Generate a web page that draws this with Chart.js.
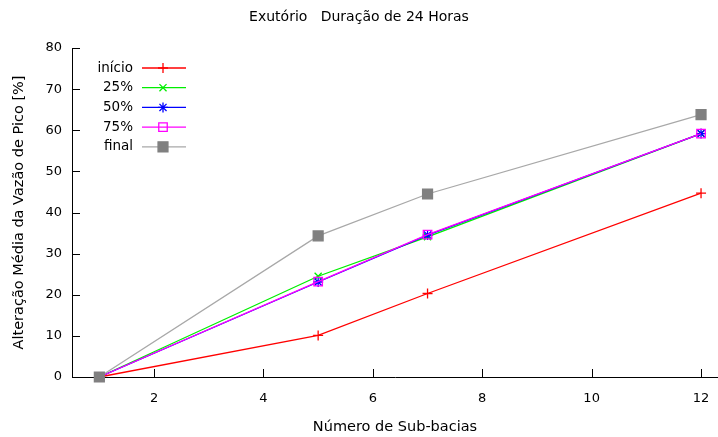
<!DOCTYPE html>
<html>
<head>
<meta charset="utf-8">
<script src="https://cdn.jsdelivr.net/npm/chart.js@4.4.0/dist/chart.umd.min.js"></script>
<style>
  html, body { margin: 0; padding: 0; background: #fff; }
  #wrap { width: 718px; height: 437px; }
</style>
</head>
<body>
<div id="wrap"><canvas id="c" width="718" height="437"></canvas></div>
<script>
// Número de sub-bacias (eixo x)
const subBacias = [1, 5, 7, 12];

// Alteração média da vazão de pico [%] para cada instante
const inicio = [0, 10.1, 20.3, 44.7];
const p25    = [0, 24.5, 34.1, 59.2];
const p50    = [0, 23.1, 34.5, 59.2];
const p75    = [0, 23.2, 34.6, 59.2];
const final  = [0, 34.3, 44.5, 63.8];

const seriesNames = ['início', '25%', '50%', '75%', 'final'];

const xTicks = [2, 4, 6, 8, 10, 12];
const yTicks = [0, 10, 20, 30, 40, 50, 60, 70, 80];

const FONT = 'DejaVu Sans';

function pts(vals) {
  return subBacias.map((x, i) => ({ x: x, y: vals[i] }));
}

const styles = [
  { line: '#ff0000', point: '#ff0000', pointStyle: 'cross',    radius: 5,   fill: false },
  { line: '#00ee00', point: '#00ee00', pointStyle: 'crossRot', radius: 5,   fill: false },
  { line: '#0000ff', point: '#0000ff', pointStyle: 'star',     radius: 5,   fill: false },
  { line: '#ff00ff', point: '#ff00ff', pointStyle: 'rect',     radius: 6,   fill: false },
  { line: '#a8a8a8', point: '#808080', pointStyle: 'rect',     radius: 7,   fill: true }
];

const values = [inicio, p25, p50, p75, final];

const datasets = values.map((v, i) => ({
  label: seriesNames[i],
  data: pts(v),
  borderColor: styles[i].line,
  borderWidth: 1.3,
  pointStyle: styles[i].pointStyle,
  pointRadius: styles[i].radius,
  pointBorderColor: styles[i].point,
  pointBackgroundColor: styles[i].fill ? styles[i].point : 'rgba(0,0,0,0)',
  pointBorderWidth: 1.3,
  tension: 0,
  fill: false,
  clip: false,
  order: 5 - i
}));

// Inward tick marks (gnuplot-like) and the key in the upper-left corner
const decor = {
  id: 'decor',
  afterDatasetsDraw(chart) {
    const ctx = chart.ctx;
    const xs = chart.scales.x, ys = chart.scales.y;
    const area = chart.chartArea;
    ctx.save();
    ctx.strokeStyle = '#000';
    ctx.lineWidth = 1;
    ctx.beginPath();
    xTicks.forEach(v => {
      const px = Math.round(xs.getPixelForValue(v)) + 0.5;
      ctx.moveTo(px, area.bottom);
      ctx.lineTo(px, area.bottom - 8);
    });
    yTicks.forEach(v => {
      const py = Math.round(ys.getPixelForValue(v)) + 0.5;
      ctx.moveTo(area.left, py);
      ctx.lineTo(area.left + 8, py);
    });
    ctx.stroke();

    // key
    ctx.font = '13.5px "' + FONT + '"';
    ctx.textAlign = 'right';
    ctx.textBaseline = 'middle';
    chart.data.datasets.forEach((ds, i) => {
      const y = area.top + 20 + i * 19.7;
      ctx.fillStyle = '#000';
      ctx.fillText(ds.label, area.left + 61, y);
      ctx.strokeStyle = ds.borderColor;
      ctx.lineWidth = ds.borderWidth;
      ctx.beginPath();
      ctx.moveTo(area.left + 70, y);
      ctx.lineTo(area.left + 114, y);
      ctx.stroke();
      ctx.fillStyle = ds.pointBackgroundColor;
      ctx.strokeStyle = ds.pointBorderColor;
      ctx.lineWidth = ds.pointBorderWidth;
      Chart.helpers.drawPoint(ctx, {
        pointStyle: ds.pointStyle,
        radius: ds.pointRadius,
        rotation: 0,
        borderWidth: ds.pointBorderWidth
      }, area.left + 91, y);
    });
    ctx.restore();
  }
};

new Chart(document.getElementById('c'), {
  type: 'line',
  data: { datasets: datasets },
  options: {
    responsive: false,
    animation: false,
    events: [],
    layout: { autoPadding: false, padding: { left: 0, right: 0, top: 0, bottom: 0 } },
    plugins: {
      legend: { display: false },
      tooltip: { enabled: false },
      title: {
        display: true,
        text: 'Exutório   Duração de 24 Horas',
        color: '#000',
        font: { family: FONT, size: 14, weight: 'normal' },
        padding: { top: 8.6, bottom: 22.6 }
      }
    },
    scales: {
      x: {
        type: 'linear',
        min: 0.5,
        max: 12.31,
        afterFit(s) { s.height = 60; s.paddingLeft = 0; s.paddingRight = 0; },
        afterBuildTicks(s) { s.ticks = xTicks.map(v => ({ value: v })); },
        grid: { display: false, drawTicks: false },
        border: { display: true, color: '#000', width: 1 },
        ticks: {
          color: '#000',
          padding: 14,
          font: { family: FONT, size: 13 },
          maxRotation: 0,
          autoSkip: false
        },
        title: {
          display: true,
          text: 'Número de Sub-bacias',
          color: '#000',
          font: { family: FONT, size: 14.5 },
          padding: { top: 0, bottom: 1 }
        }
      },
      y: {
        type: 'linear',
        min: 0,
        max: 80,
        afterFit(s) { s.width = 72; s.paddingTop = 0; s.paddingBottom = 0; },
        afterBuildTicks(s) { s.ticks = yTicks.map(v => ({ value: v })); },
        grid: { display: false, drawTicks: false },
        border: { display: true, color: '#000', width: 1 },
        ticks: {
          color: '#000',
          padding: 10,
          font: { family: FONT, size: 13 }
        },
        title: {
          display: true,
          text: 'Alteração Média da Vazão de Pico [%]',
          color: '#000',
          font: { family: FONT, size: 14.5 },
          padding: { top: 11, bottom: 0 }
        }
      }
    }
  },
  plugins: [decor]
});
</script>
</body>
</html>
